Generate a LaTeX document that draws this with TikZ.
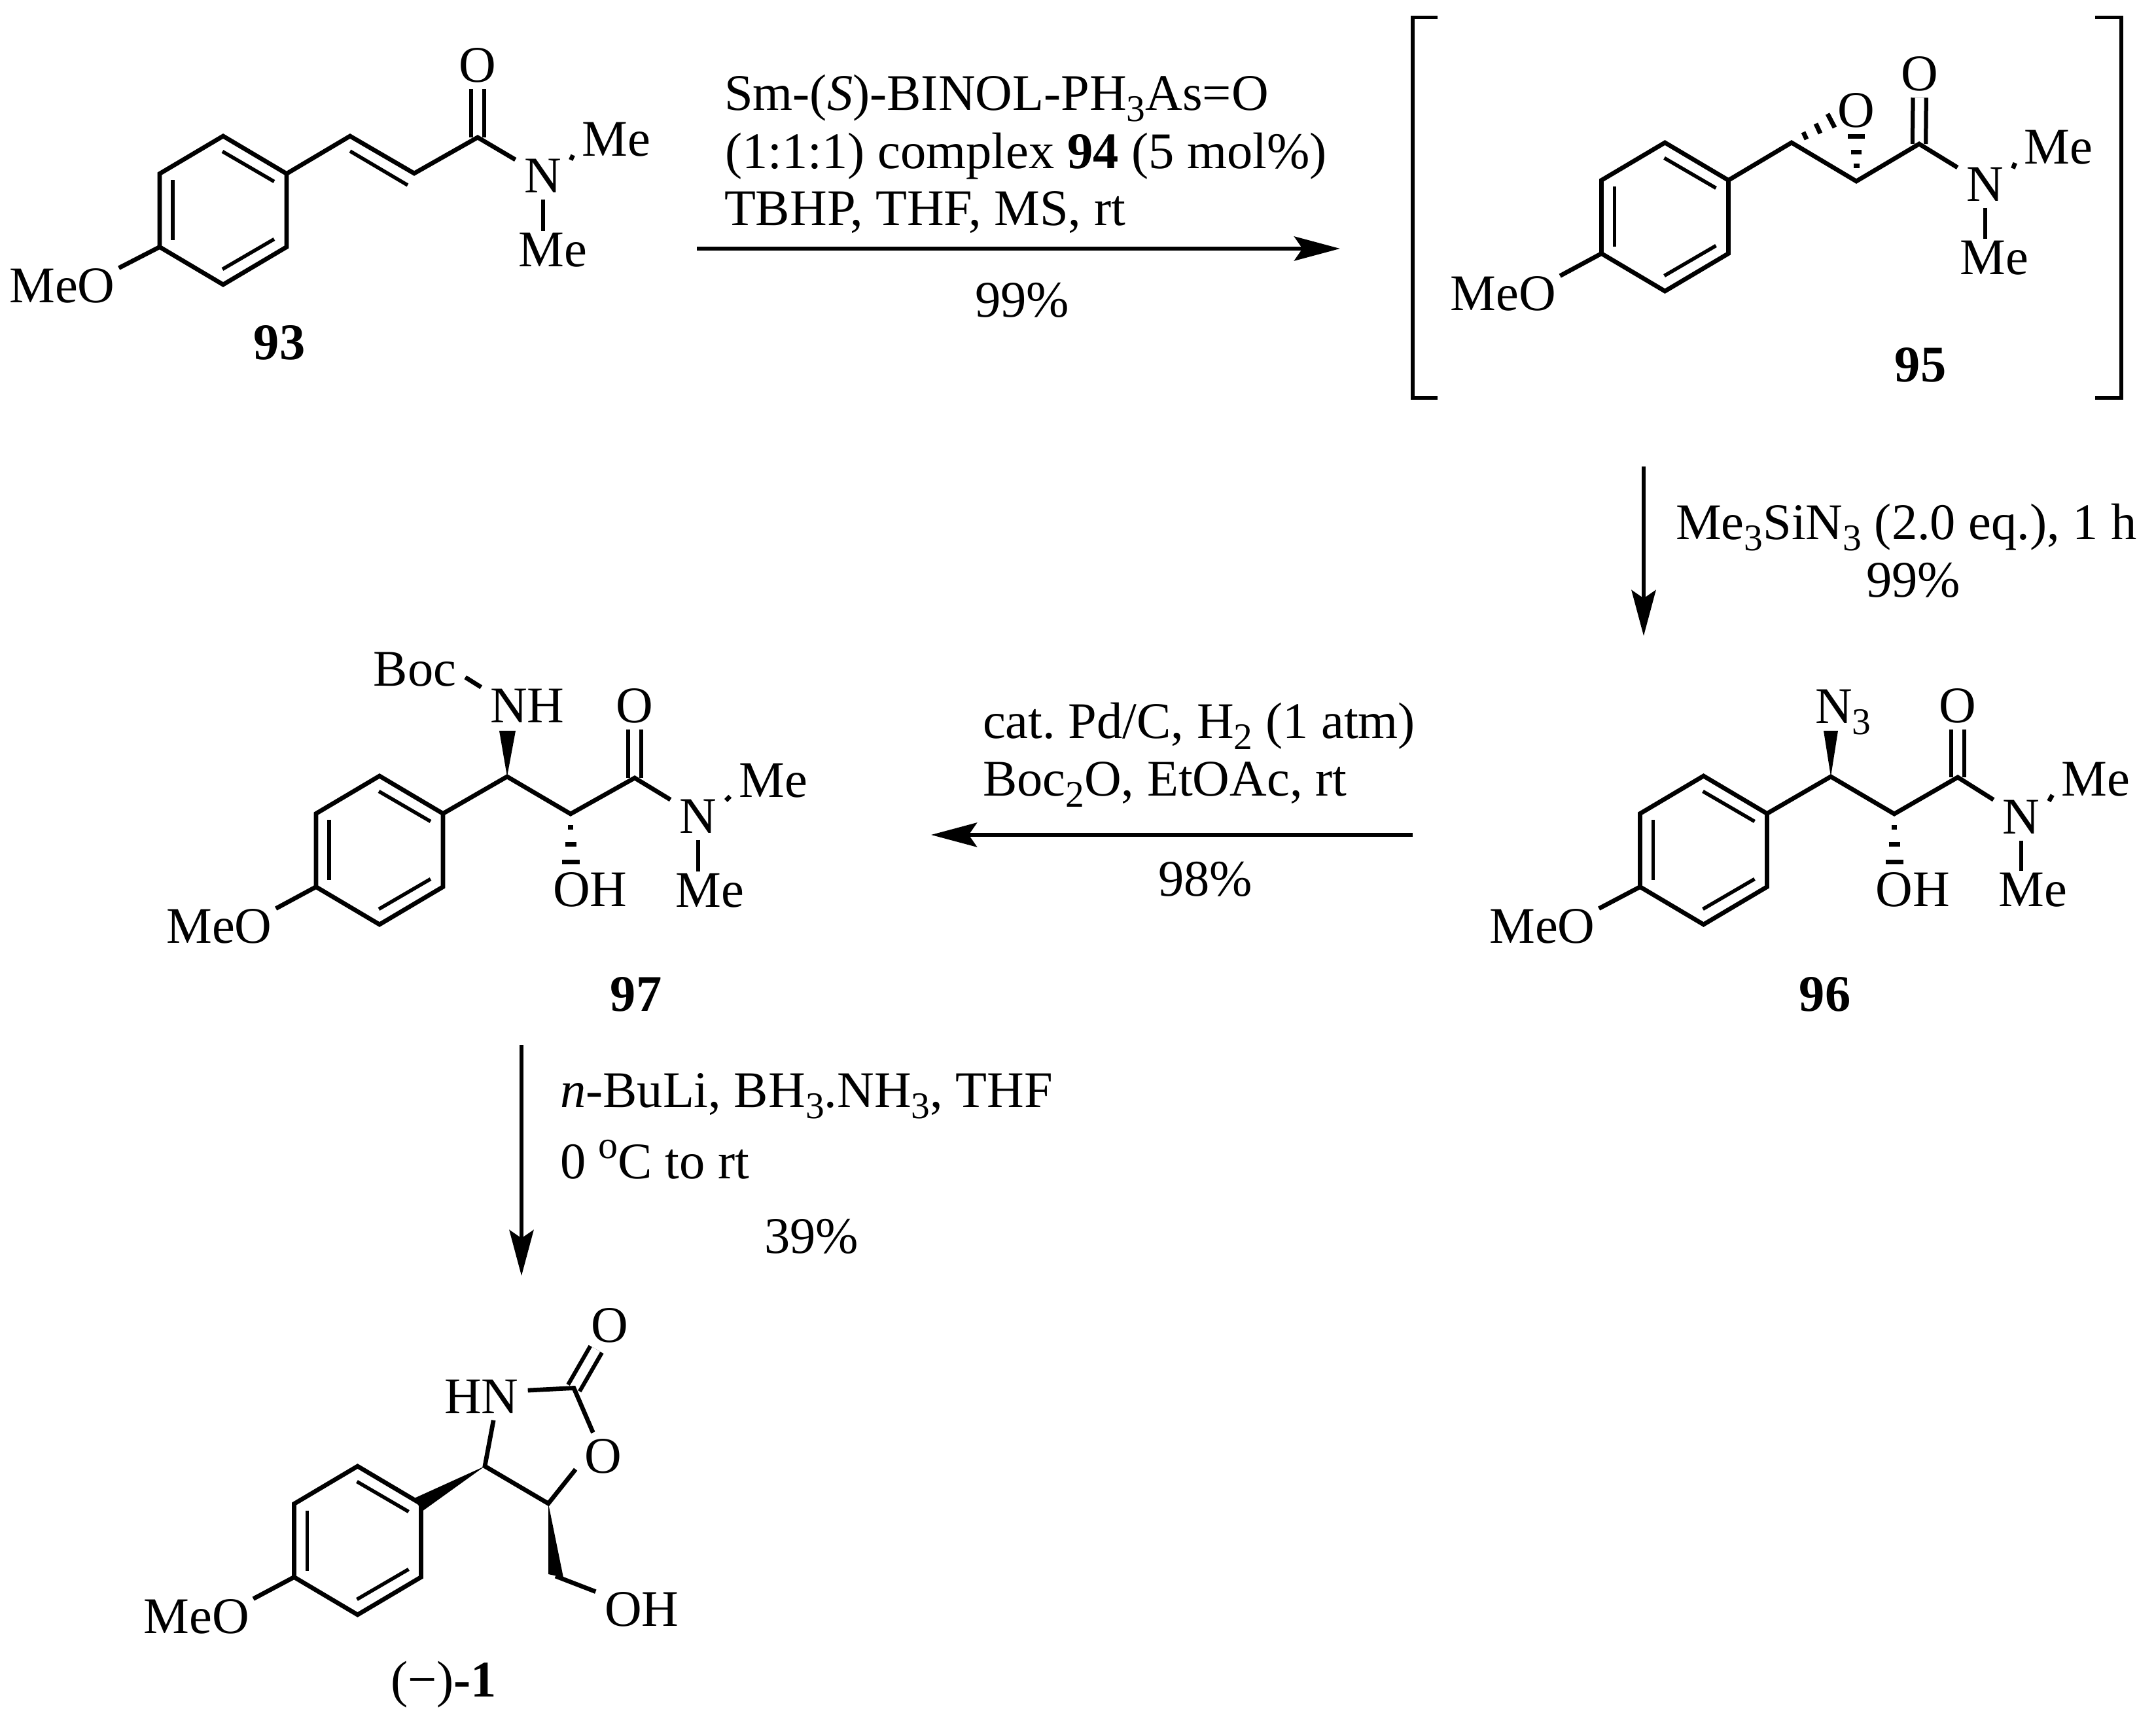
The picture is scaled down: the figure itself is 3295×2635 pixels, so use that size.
\documentclass[tikz,border=0pt]{standalone}
\usepackage{fontspec}
\setmainfont{Liberation Serif}
\usetikzlibrary{calc,arrows.meta}
\frenchspacing

\newcommand{\subs}[1]{\raisebox{-3.4pt}{\fontsize{11.5pt}{13pt}\selectfont #1}}
\newcommand{\sups}[1]{\raisebox{6pt}{\fontsize{12pt}{13pt}\selectfont #1}}

\tikzset{
    bond/.style={line width=1.35pt, line join=miter},
    inbond/.style={line width=1.1pt},
    dblbond/.style={line width=1.25pt, double, double distance=2.8pt},
    hash/.style={line width=1.4pt},
    bracket/.style={line width=1.1pt},
    rxnarrow/.style={line width=1.25pt, -{Stealth[length=14pt, width=7.4pt, inset=2.5pt]}},
    atom/.style={inner xsep=2.6pt, inner ysep=1.8pt},
    grp/.style={inner xsep=2.6pt, inner ysep=0.4pt},
    meo/.style={inner xsep=1pt, inner ysep=0pt},
    rgt/.style={anchor=base west, inner sep=0pt},
    yld/.style={anchor=base, inner sep=0pt},
    lbl/.style={inner sep=0pt, font=\fontsize{15.7pt}{18pt}\selectfont\bfseries}
}

\newcommand{\anisyl}[3]{
    \begin{scope}[shift={(#2,#3)}]
        \coordinate (#1a) at (0,-113.5);
        \coordinate (#1b) at (97,-56);
        \coordinate (#1c) at (97,56);
        \coordinate (#1d) at (0,113.5);
        \coordinate (#1e) at (-97,56);
        \coordinate (#1f) at (-97,-56);
        \coordinate (#1g) at (-77,-46);
        \coordinate (#1h) at (-77,46);
        \coordinate (#1i) at (-1,-90);
        \coordinate (#1j) at (78,-44);
        \coordinate (#1k) at (-1,90);
        \coordinate (#1l) at (78,44);
    \end{scope}
    \draw[bond] (#1a) -- (#1b) -- (#1c) -- (#1d) -- (#1e) -- (#1f) -- cycle;
    \draw[inbond] (#1g) -- (#1h);
    \draw[inbond] (#1i) -- (#1j);
    \draw[inbond] (#1k) -- (#1l);
}

\begin{document}
\begin{tikzpicture}[x=0.2pt, y=-0.2pt, every node/.style={font=\fontsize{15.7pt}{18pt}\selectfont}]
    \useasboundingbox (0,0) rectangle (3295,2635);

    % 93
    \anisyl{r93}{341}{321.5}
    \coordinate (c93a) at (535,208);
    \coordinate (c93b) at (633,265);
    \coordinate (c93c) at (730,210);
    \coordinate (c93d) at (535,231);
    \coordinate (c93e) at (623,283);
    \node[atom] (o93) at (730,100) {O};
    \node[atom] (n93) at (830,269) {N};
    \node[grp] (me93a) at (942,213) {Me};
    \node[grp] (me93b) at (845,382) {Me};
    \node[meo] (meo93) at (95,437) {MeO};
    \node[lbl] (l93) at (427,524) {93};
    \draw[dblbond] (c93c) -- (o93);
    \draw[bond] (r93b) -- (c93a) -- (c93b) -- (c93c) -- (n93);
    \draw[inbond] (c93d) -- (c93e);
    \draw[bond] (n93.30) -- (me93a.200);
    \draw[bond] (n93.south) -- (n93.south |- me93b.north);
    \draw[bond] (r93e) -- (meo93.north east);

    % 95
    \anisyl{r95}{2544.5}{331.5}
    \coordinate (c95a) at (2738,218);
    \coordinate (c95b) at (2837,277);
    \coordinate (c95c) at (2933,220);
    \node[atom] (o95) at (2934,113) {O};
    \node[atom] (oe95) at (2837,169) {O};
    \node[atom] (n95) at (3034,282) {N};
    \node[grp] (me95a) at (3146,225) {Me};
    \node[grp] (me95b) at (3048,394) {Me};
    \node[meo] (meo95) at (2297.5,449) {MeO};
    \node[lbl] (l95) at (2935,558) {95};
    \draw[dblbond] (c95c) -- (o95);
    \draw[bond] (r95b) -- (c95a) -- (c95b) -- (c95c) -- (n95);
    \draw[bond] (n95.30) -- (me95a.200);
    \draw[bond] (n95.south) -- (n95.south |- me95b.north);
    \draw[bond] (r95e) -- (meo95.north east);
    \foreach \dy/\dw in {-23/4.5,-44/8,-68/13}
        \draw[hash] ($(c95b)+(-\dw,\dy)$) -- ($(c95b)+(\dw,\dy)$);
    \foreach \xa/\ya/\xb/\yb in {18/-16/23/-5,37/-29/44/-14,55/-44/66/-23}
        \draw[hash] ($(c95a)+(\xa,\ya)$) -- ($(c95a)+(\xb,\yb)$);

    \coordinate (brl1) at (2197,26.5);
    \coordinate (brl2) at (2159,26.5);
    \coordinate (brl3) at (2159,608);
    \coordinate (brl4) at (2197,608);
    \coordinate (brr1) at (3202,26.5);
    \coordinate (brr2) at (3242,26.5);
    \coordinate (brr3) at (3242,608);
    \coordinate (brr4) at (3202,608);
    \draw[bracket] (brl1) -- (brl2) -- (brl3) -- (brl4);
    \draw[bracket] (brr1) -- (brr2) -- (brr3) -- (brr4);

    % 96
    \anisyl{r96}{2603.5}{1299.5}
    \coordinate (c96a) at (2798,1187);
    \coordinate (c96b) at (2895,1244);
    \coordinate (c96c) at (2992,1188);
    \node[rgt] (n396) at (2773,1106) {N\subs{3}};
    \node[atom] (o96) at (2992,1079) {O};
    \node[atom] (n96) at (3089,1249) {N};
    \node[grp] (me96a) at (3203,1191) {Me};
    \node[grp] (me96b) at (3107,1360) {Me};
    \node[grp] (oh96) at (2923.5,1360) {OH};
    \node[meo] (meo96) at (2357,1416) {MeO};
    \node[lbl] (l96) at (2789,1520) {96};
    \draw[dblbond] (c96c) -- (o96);
    \draw[bond] (r96b) -- (c96a) -- (c96b) -- (c96c) -- (n96);
    \draw[bond] (n96.30) -- (me96a.200);
    \draw[bond] (n96.south) -- (n96.south |- me96b.north);
    \draw[bond] (r96e) -- (meo96.north east);
    \fill (c96a) -- ++(-11,-70) -- ++(22,0) -- cycle;
    \foreach \dy/\dw in {21/4,47/8.5,73.5/13.5}
        \draw[hash] ($(c96b)+(-\dw,\dy)$) -- ($(c96b)+(\dw,\dy)$);

    % 97
    \anisyl{r97}{580}{1299.5}
    \coordinate (c97a) at (775,1187);
    \coordinate (c97b) at (872,1244);
    \coordinate (c97c) at (970,1189);
    \node[grp] (nh97) at (806,1079) {NH};
    \node[grp] (boc97) at (634,1023) {Boc};
    \node[atom] (o97) at (970,1079) {O};
    \node[atom] (n97) at (1067,1248) {N};
    \node[grp] (me97a) at (1182,1193) {Me};
    \node[grp] (me97b) at (1085,1361) {Me};
    \node[grp] (oh97) at (902,1360) {OH};
    \node[meo] (meo97) at (335,1416) {MeO};
    \node[lbl] (l97) at (972,1520) {97};
    \draw[dblbond] (c97c) -- (o97);
    \draw[bond] (r97b) -- (c97a) -- (c97b) -- (c97c) -- (n97);
    \draw[bond] (n97.30) -- (me97a.200);
    \draw[bond] (n97.south) -- (n97.south |- me97b.north);
    \draw[bond] (r97e) -- (meo97.north east);
    \draw[bond] (boc97.-9) -- (nh97.north west);
    \fill (c97a) -- ++(-12,-70) -- ++(25,0) -- cycle;
    \foreach \dy/\dw in {21/4,47/8.5,73.5/13.5}
        \draw[hash] ($(c97b)+(-\dw,\dy)$) -- ($(c97b)+(\dw,\dy)$);

    % (-)-1
    \anisyl{r1}{546.5}{2354.5}
    \coordinate (c1a) at (741,2241);
    \coordinate (c1b) at (838,2298);
    \coordinate (c1c) at (877,2121.5);
    \coordinate (c1d) at (849,2409);
    \node[atom] (o1) at (932,2026) {O};
    \node[atom] (hn1) at (736,2135) {HN};
    \node[atom] (oe1) at (922,2226) {O};
    \node[grp] (oh1) at (981,2460) {OH};
    \node[meo] (meo1) at (300.5,2471) {MeO};
    \node[inner sep=0pt] (l1) at (678,2575) {(−)\textbf{-1}};
    \draw[dblbond] (c1c) -- (o1);
    \draw[bond] (hn1.-63) -- (c1a) -- (c1b) -- (oe1.205);
    \draw[bond] (hn1.8) -- (c1c) -- (oe1);
    \draw[bond] (c1d) -- (oh1);
    \draw[bond] (r1e) -- (meo1.north east);
    \fill (c1a) -- ++(-108,49) -- ++(12,20) -- cycle;
    \fill (c1b) -- ++(0,108) -- ++(23,5) -- cycle;

    % arrows
    \coordinate (a1s) at (1065,380);
    \coordinate (a1e) at (2048,380);
    \coordinate (a2s) at (2512,713);
    \coordinate (a2e) at (2512,972);
    \coordinate (a3s) at (2159,1276);
    \coordinate (a3e) at (1423,1276);
    \coordinate (a4s) at (797,1597);
    \coordinate (a4e) at (797,1950);
    \draw[rxnarrow] (a1s) -- (a1e);
    \draw[rxnarrow] (a2s) -- (a2e);
    \draw[rxnarrow] (a3s) -- (a3e);
    \draw[rxnarrow] (a4s) -- (a4e);

    \node[rgt] (t1a) at (1106,169) {Sm-(\textit{S})-BINOL-PH\subs{3}As=O};
    \node[rgt] (t1b) at (1107,258) {(1:1:1) complex \textbf{94} (5 mol\%)};
    \node[rgt] (t1c) at (1106,345) {TBHP, THF, MS, rt};
    \node[yld] (y1) at (1562,485) {99\%};

    \node[rgt] (t2a) at (2560,825) {Me\subs{3}SiN\subs{3} (2.0 eq.), 1 h};
    \node[yld] (y2) at (2924,913) {99\%};

    \node[rgt] (t3a) at (1501,1129) {cat. Pd/C, H\subs{2} (1 atm)};
    \node[rgt] (t3b) at (1501,1217) {Boc\subs{2}O, EtOAc, rt};
    \node[yld] (y3) at (1842,1370) {98\%};

    \node[rgt] (t4a) at (855,1692) {\textit{n}-BuLi, BH\subs{3}.NH\subs{3}, THF};
    \node[rgt] (t4b) at (855,1801) {0 \sups{o}C to rt};
    \node[yld] (y4) at (1240,1915) {39\%};
\end{tikzpicture}
\end{document}
